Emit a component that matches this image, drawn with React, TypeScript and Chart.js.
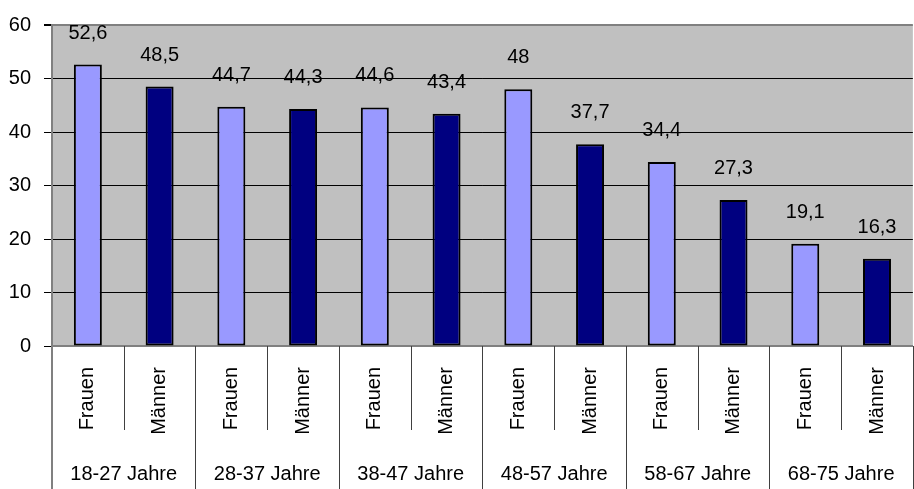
import React, { useEffect, useRef } from "react";
import { Chart, registerables } from "chart.js";

Chart.register(...registerables);

const sexLabels = ["Frauen", "Männer", "Frauen", "Männer", "Frauen", "Männer", "Frauen", "Männer", "Frauen", "Männer", "Frauen", "Männer"];
const ageGroups = ["18-27 Jahre", "28-37 Jahre", "38-47 Jahre", "48-57 Jahre", "58-67 Jahre", "68-75 Jahre"];
const values = [52.6, 48.5, 44.7, 44.3, 44.6, 43.4, 48, 37.7, 34.4, 27.3, 19.1, 16.3];
const yTicks = [0, 10, 20, 30, 40, 50, 60];

const FONT = "'Liberation Sans', Arial, sans-serif";
const FSIZE = 20;
const COLOR_F = "#9999FF";
const COLOR_M = "#000080";

export default function App() {
  const ref = useRef<HTMLCanvasElement | null>(null);

  useEffect(() => {
    document.documentElement.style.overflow = "hidden";
    document.body.style.overflow = "hidden";
    const canvas = ref.current;
    if (!canvas) return;

    const bgPlugin = {
      id: "plotBg",
      beforeDraw(chart: any) {
        const { ctx, chartArea } = chart;
        ctx.save();
        ctx.fillStyle = "#C0C0C0";
        ctx.fillRect(chartArea.left, chartArea.top, chartArea.right - chartArea.left, chartArea.bottom - chartArea.top);
        ctx.restore();
      },
    };

    const sepPlugin = {
      id: "separators",
      afterDraw(chart: any) {
        const { ctx, chartArea } = chart;
        const xs = chart.scales.x;
        ctx.save();
        for (let i = 1; i <= sexLabels.length; i++) {
          const px = Math.round(xs.getPixelForValue(i - 0.5)) + 0.5;
          const isGroup = i % 2 === 0;
          ctx.strokeStyle = "#404040";
          ctx.lineWidth = 1;
          ctx.beginPath();
          ctx.moveTo(px, chartArea.bottom);
          ctx.lineTo(px, isGroup ? chart.height : chartArea.bottom + 84);
          ctx.stroke();
        }
        ctx.strokeStyle = "#808080";
        ctx.lineWidth = 2;
        ctx.beginPath();
        ctx.moveTo(chartArea.left, chartArea.bottom);
        ctx.lineTo(chartArea.left, chart.height);
        ctx.stroke();
        ctx.restore();
      },
    };

    const labelPlugin = {
      id: "valueLabels",
      afterDatasetsDraw(chart: any) {
        const { ctx } = chart;
        const meta = chart.getDatasetMeta(0);
        ctx.save();
        ctx.font = `${FSIZE}px ${FONT}`;
        ctx.fillStyle = "#000";
        ctx.textAlign = "center";
        ctx.textBaseline = "alphabetic";
        meta.data.forEach((bar: any, i: number) => {
          const txt = String(values[i]).replace(".", ",");
          ctx.fillText(txt, bar.x, bar.y - 26);
        });
        ctx.restore();
      },
    };

    const chart = new Chart(canvas, {
      type: "bar",
      data: {
        labels: sexLabels,
        datasets: [
          {
            data: values,
            backgroundColor: values.map((_, i) => (i % 2 === 0 ? COLOR_F : COLOR_M)),
            borderColor: "#000",
            borderWidth: 2,
            borderSkipped: false,
            barPercentage: 0.39,
            categoryPercentage: 1,
          },
        ],
      },
      options: {
        responsive: false,
        animation: false,
        layout: { padding: { top: 24, left: 0, right: 0, bottom: 0 } },
        plugins: {
          legend: { display: false },
          tooltip: { enabled: false },
        },
        scales: {
          x: {
            type: "category",
            position: "bottom",
            weight: 0,
            grid: { display: false, drawTicks: false },
            border: { display: true, color: "#808080", width: 2 },
            ticks: {
              autoSkip: false,
              maxRotation: 90,
              minRotation: 90,
              padding: 21,
              color: "#000",
              font: { family: FONT, size: FSIZE },
            },
            afterFit: (s: any) => {
              s.height = 90;
            },
          },
          x2: {
            type: "category",
            position: "bottom",
            weight: 1,
            labels: ageGroups,
            offset: true,
            grid: { display: false, drawTicks: false },
            border: { display: false },
            ticks: {
              autoSkip: false,
              maxRotation: 0,
              minRotation: 0,
              padding: 26,
              color: "#000",
              font: { family: FONT, size: FSIZE },
            },
            afterFit: (s: any) => {
              s.height = 53;
            },
          },
          y: {
            min: 0,
            max: 60,
            afterBuildTicks: (s: any) => {
              s.ticks = yTicks.map((v) => ({ value: v }));
            },
            grid: {
              color: (c: any) => (c.tick && c.tick.value === 60 ? "#808080" : "#000"),
              lineWidth: (c: any) => (c.tick && c.tick.value === 60 ? 2 : 1),
              tickLength: 8,
              tickColor: "#000",
            },
            border: { display: true, color: "#808080", width: 2 },
            ticks: {
              padding: 13,
              color: "#000",
              font: { family: FONT, size: FSIZE },
            },
            afterFit: (s: any) => {
              s.width = 52;
            },
          },
        },
      },
      plugins: [bgPlugin, sepPlugin, labelPlugin],
    } as any);

    return () => chart.destroy();
  }, []);

  return (
    <div style={{ position: "fixed", left: 0, top: 0, width: 922, height: 489, background: "#fff" }}>
      <canvas ref={ref} width={922} height={489} style={{ display: "block" }} />
    </div>
  );
}
